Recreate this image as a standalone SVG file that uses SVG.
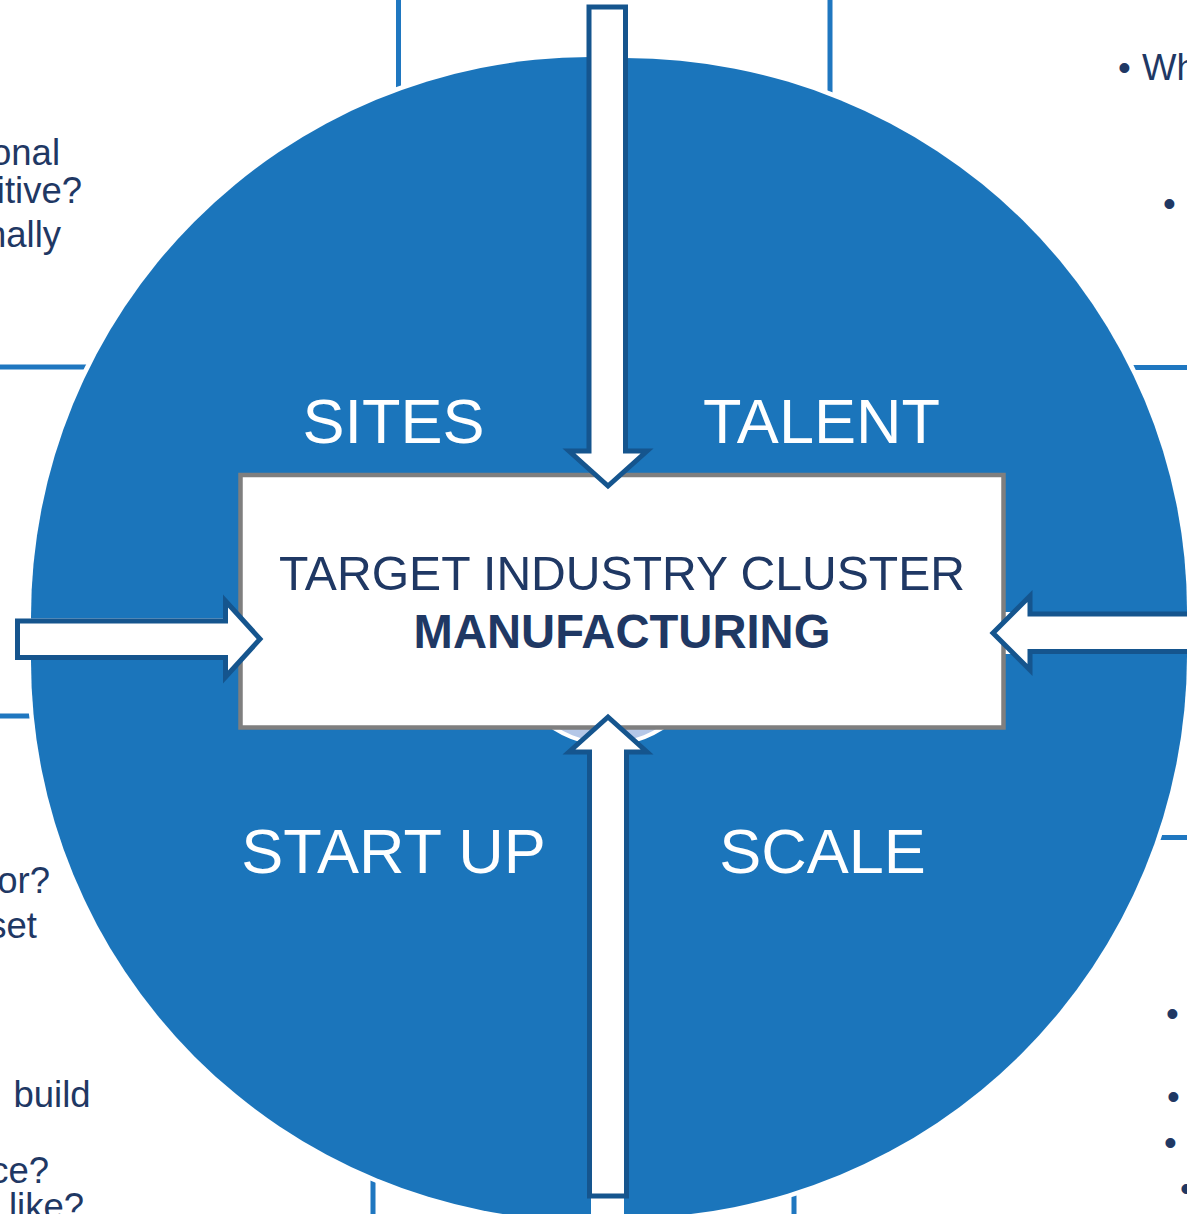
<svg xmlns="http://www.w3.org/2000/svg" width="1187" height="1214" viewBox="0 0 1187 1214">
<style>
.frame{fill:none;stroke:#1f77c0;stroke-width:5}
.halo{fill:none;stroke:#ffffff;stroke-width:9}
.quad{fill:#1b75bb}
.qlabel{font-family:"Liberation Sans",Arial,sans-serif;font-size:63px;fill:#ffffff;text-anchor:middle}
.side{font-family:"Liberation Sans",Arial,sans-serif;font-size:36.5px;fill:#1f3864}
.end{text-anchor:end}
.arrow{fill:#ffffff;stroke:#15558e;stroke-width:5;stroke-linejoin:miter}
.ctext{font-family:"Liberation Sans",Arial,sans-serif;fill:#1f3864;text-anchor:middle}
</style>
<defs>
<path id="q-tl" d="M590,618.5 L31,618.5 A560,560 0 0 1 590,57 Z"/>
<path id="q-tr" d="M625,612 L625,58 A562,553 0 0 1 1187,612 Z"/>
<path id="q-br" d="M624,654 L1187,654 A563,563 0 0 1 624,1218 Z"/>
<path id="q-bl" d="M591,660 L591,1221 A560,560 0 0 1 31,660 Z"/>
</defs>
<rect width="1187" height="1214" fill="#ffffff"/>
<g id="frames">
<rect id="frame-tl" class="frame" x="-10" y="-10" width="408.5" height="377"/>
<rect id="frame-tr" class="frame" x="830" y="-10" width="380" height="377.5"/>
<rect id="frame-bl" class="frame" x="-10" y="716" width="383" height="520"/>
<rect id="frame-br" class="frame" x="794" y="837.5" width="420" height="400"/>
</g>
<g id="side-text">
<text class="side end" x="60" y="165">onal</text>
<text class="side end" x="82" y="203">itive?</text>
<text class="side end" x="61" y="247">nally</text>
<text class="side end" x="50" y="893">or?</text>
<text class="side end" x="37" y="938">set</text>
<text class="side" x="13.5" y="1107">build</text>
<text class="side end" x="49" y="1183">ce?</text>
<text class="side end" x="84" y="1219">like?</text>
<text class="side" x="1118" y="80">•</text>
<text class="side" x="1142" y="80">Wh</text>
<text class="side" x="1163" y="216">•</text>
<text class="side" x="1166" y="1026">•</text>
<text class="side" x="1167" y="1109">•</text>
<text class="side" x="1164" y="1155">•</text>
<text class="side" x="1180" y="1201">•</text>
</g>
<g id="halo">
<use href="#q-tl" class="halo"/>
<use href="#q-tr" class="halo"/>
<use href="#q-br" class="halo"/>
<use href="#q-bl" class="halo"/>
</g>
<g id="sites">
<use href="#q-tl" class="quad"/>
<text class="qlabel" x="393.5" y="443">SITES</text>
</g>
<g id="talent">
<use href="#q-tr" class="quad"/>
<text class="qlabel" x="821.5" y="443">TALENT</text>
</g>
<g id="scale">
<use href="#q-br" class="quad"/>
<text class="qlabel" x="822.5" y="873">SCALE</text>
</g>
<g id="startup">
<use href="#q-bl" class="quad"/>
<text class="qlabel" x="393.5" y="873">START UP</text>
</g>
<g id="hub">
<circle cx="608" cy="645" r="99" fill="#b4c7e7" stroke="#ffffff" stroke-width="4"/>
</g>
<g id="target-cluster">
<rect x="240.5" y="475" width="763" height="252.5" fill="#ffffff" stroke="#7f7f7f" stroke-width="4.5"/>
<text class="ctext" x="622" y="590" font-size="48.1">TARGET INDUSTRY CLUSTER</text>
<text class="ctext" x="622" y="648" font-weight="bold" font-size="47.2">MANUFACTURING</text>
</g>
<g id="connectors">
<polygon class="arrow" points="589,7 625.5,7 625.5,451 647,451 608,486 569,451 589,451"/>
<polygon class="arrow" points="589.5,1196 626.5,1196 626.5,752 647,752 608,717 569,752 589.5,752"/>
<polygon class="arrow" points="17.5,621 225.5,621 225.5,601 260,639 225.5,677 225.5,657.5 17.5,657.5"/>
<polygon class="arrow" points="1200,614 1030,614 1030,596 993,633 1030,670 1030,651.5 1200,651.5"/>
</g>
</svg>
